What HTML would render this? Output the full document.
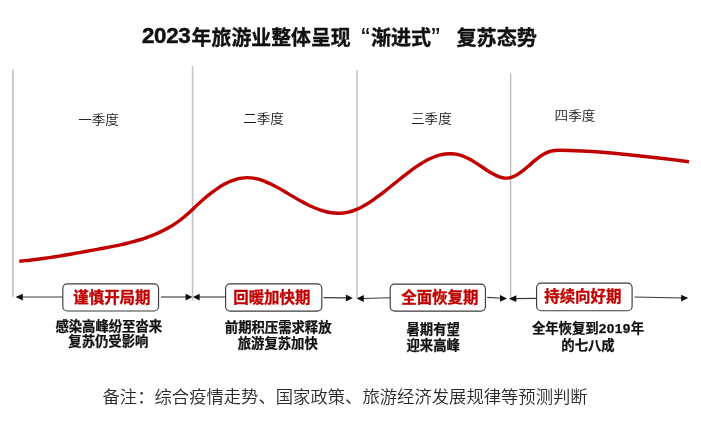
<!DOCTYPE html>
<html lang="zh-CN">
<head>
<meta charset="utf-8">
<title>2023年旅游业整体呈现“渐进式”复苏态势</title>
<style>
html,body{margin:0;padding:0;background:#fff;}
body{width:701px;height:425px;overflow:hidden;}
svg{display:block;}
text{font-family:"Liberation Sans","Noto Sans CJK SC",sans-serif;}
.title{font-size:20.4px;font-weight:700;fill:#111;stroke:#111;stroke-width:0.35px;}
.q{font-size:13px;font-weight:350;fill:#1a1a1a;}
.box{font-size:15.45px;font-weight:700;fill:#c00000;stroke:#c00000;stroke-width:0.3px;}
.desc{font-size:13.35px;font-weight:700;fill:#111;stroke:#111;stroke-width:0.25px;}
.note{font-size:17.33px;font-weight:350;fill:#2a2a2a;}
</style>
</head>
<body>
<svg width="701" height="425" viewBox="0 0 701 425">
<rect width="701" height="425" fill="#fff"/>
<!-- vertical dividers -->
<line x1="12.9" y1="69.5" x2="12.9" y2="297.2" stroke="#c2c2c2" stroke-width="1.6"/>
<line x1="192.6" y1="66" x2="192.6" y2="300.5" stroke="#c4c5c5" stroke-width="1.7"/>
<line x1="357.05" y1="70.3" x2="357.05" y2="298.2" stroke="#c2c2c2" stroke-width="1.5"/>
<line x1="510.65" y1="73.3" x2="510.65" y2="299.5" stroke="#b6b6b6" stroke-width="1.2"/>
<!-- title -->
<text class="title" x="142" y="43.4" style="font-size:22.3px;letter-spacing:-0.3px;stroke:#111;stroke-width:0.5px">2023</text>
<text class="title" transform="translate(191.6,44.6) scale(0.976,1)">年旅游业整体呈现</text>
<text class="title" x="361.3" y="46.2" style="font-size:26px;font-weight:400;stroke-width:0.2px">“</text>
<text class="title" transform="translate(370.9,44.6) scale(0.986,1)">渐进式</text>
<text class="title" x="431.2" y="46.2" style="font-size:26px;font-weight:400;stroke-width:0.2px">”</text>
<text class="title" transform="translate(456.4,44.6) scale(0.989,1)">复苏态势</text>
<!-- quarter labels -->
<text class="q" transform="translate(78.2,123.7) scale(1.045,1)">一季度</text>
<text class="q" transform="translate(243.2,123.0) scale(1.045,1)">二季度</text>
<text class="q" transform="translate(411,123.0) scale(1.045,1)">三季度</text>
<text class="q" transform="translate(554.6,120.3) scale(1.045,1)">四季度</text>
<!-- curve -->
<path d="M19.3,261.2 C21.3,261.01 23.3,260.82 25.3,260.62 C27.3,260.43 29.3,260.21 31.3,259.99 C33.3,259.76 35.3,259.52 37.3,259.27 C39.3,259.02 41.3,258.75 43.3,258.48 C45.3,258.20 47.3,257.92 49.3,257.62 C51.3,257.33 53.3,257.02 55.3,256.71 C57.3,256.40 59.3,256.07 61.3,255.75 C63.3,255.42 65.3,255.08 67.3,254.74 C69.3,254.40 71.3,254.05 73.3,253.70 C75.3,253.35 77.3,252.99 79.3,252.63 C81.3,252.27 83.3,251.91 85.3,251.54 C87.3,251.17 89.3,250.81 91.3,250.44 C93.3,250.07 95.3,249.70 97.3,249.33 C99.3,248.96 101.3,248.59 103.3,248.22 C105.3,247.85 107.3,247.47 109.3,247.09 C111.3,246.71 113.3,246.32 115.3,245.91 C117.3,245.51 119.3,245.09 121.3,244.65 C123.3,244.21 125.3,243.75 127.3,243.26 C129.3,242.78 131.3,242.27 133.3,241.72 C135.3,241.18 137.3,240.61 139.3,240.00 C141.3,239.39 143.3,238.74 145.3,238.05 C147.3,237.36 149.3,236.63 151.3,235.85 C153.3,235.07 155.3,234.24 157.3,233.36 C159.3,232.47 161.3,231.54 163.3,230.53 C165.3,229.53 167.3,228.46 169.3,227.30 C171.3,226.14 173.3,224.91 175.3,223.57 C177.3,222.23 179.3,220.80 181.3,219.26 C183.3,217.71 185.3,216.05 187.3,214.28 C189.3,212.51 191.3,210.64 193.3,208.75 C195.3,206.87 197.3,204.96 199.3,203.12 C201.3,201.28 203.3,199.50 205.3,197.79 C207.3,196.09 209.3,194.46 211.3,192.92 C213.3,191.38 215.3,189.92 217.3,188.57 C219.3,187.22 221.3,185.98 223.3,184.85 C225.3,183.71 227.3,182.70 229.3,181.81 C231.3,180.92 233.3,180.16 235.3,179.54 C237.3,178.92 239.3,178.44 241.3,178.12 C243.3,177.80 245.3,177.63 247.3,177.63 C249.3,177.63 251.3,177.80 253.3,178.11 C255.3,178.43 257.3,178.89 259.3,179.47 C261.3,180.06 263.3,180.77 265.3,181.57 C267.3,182.37 269.3,183.28 271.3,184.25 C273.3,185.23 275.3,186.28 277.3,187.37 C279.3,188.47 281.3,189.62 283.3,190.79 C285.3,191.96 287.3,193.15 289.3,194.35 C291.3,195.55 293.3,196.74 295.3,197.91 C297.3,199.09 299.3,200.23 301.3,201.34 C303.3,202.44 305.3,203.49 307.3,204.49 C309.3,205.49 311.3,206.43 313.3,207.30 C315.3,208.17 317.3,208.97 319.3,209.67 C321.3,210.38 323.3,211.00 325.3,211.52 C327.3,212.04 329.3,212.45 331.3,212.75 C333.3,213.05 335.3,213.23 337.3,213.29 C339.3,213.34 341.3,213.26 343.3,213.03 C345.3,212.81 347.3,212.44 349.3,211.91 C351.3,211.39 353.3,210.71 355.3,209.91 C357.3,209.11 359.3,208.19 361.3,207.15 C363.3,206.12 365.3,204.98 367.3,203.75 C369.3,202.52 371.3,201.20 373.3,199.82 C375.3,198.43 377.3,196.98 379.3,195.48 C381.3,193.98 383.3,192.43 385.3,190.85 C387.3,189.28 389.3,187.67 391.3,186.05 C393.3,184.44 395.3,182.81 397.3,181.20 C399.3,179.58 401.3,177.98 403.3,176.40 C405.3,174.82 407.3,173.27 409.3,171.77 C411.3,170.27 413.3,168.82 415.3,167.43 C417.3,166.04 419.3,164.72 421.3,163.49 C423.3,162.25 425.3,161.10 427.3,160.06 C429.3,159.01 431.3,158.07 433.3,157.26 C435.3,156.44 437.3,155.75 439.3,155.20 C441.3,154.65 443.3,154.24 445.3,153.99 C447.3,153.74 449.3,153.64 451.3,153.71 C453.3,153.78 455.3,154.02 457.3,154.44 C459.3,154.86 461.3,155.46 463.3,156.25 C465.3,157.04 467.3,158.01 469.3,159.09 C471.3,160.17 473.3,161.37 475.3,162.62 C477.3,163.88 479.3,165.20 481.3,166.52 C483.3,167.85 485.3,169.17 487.3,170.45 C489.3,171.73 491.3,172.96 493.3,174.05 C495.3,175.15 497.3,176.11 499.3,176.82 C501.3,177.54 503.3,178.00 505.3,178.11 C507.3,178.22 509.3,177.95 511.3,177.33 C513.3,176.72 515.3,175.78 517.3,174.61 C519.3,173.43 521.3,172.01 523.3,170.43 C525.3,168.85 527.3,167.11 529.3,165.34 C531.3,163.57 533.3,161.78 535.3,160.12 C540.3,155.97 547.0,150.40 558.0,150.30 C583,150.2 640,155.5 689,161.7" fill="none" stroke="#c00000" stroke-width="3.4" stroke-linecap="butt" stroke-linejoin="round"/>
<!-- arrows -->
<g stroke="#3a3a3a" stroke-width="1.1" fill="#0c0c0c">
<line x1="20" y1="297" x2="62.8" y2="297"/>
<line x1="161" y1="297" x2="187" y2="297"/>
<line x1="198" y1="297" x2="225.6" y2="297"/>
<line x1="323.5" y1="297.6" x2="347" y2="297.9"/>
<line x1="362" y1="298.5" x2="390.2" y2="297.7"/>
<line x1="487.1" y1="297.4" x2="502" y2="298.3"/>
<line x1="514" y1="298.6" x2="536.6" y2="298.4"/>
<line x1="634.5" y1="297" x2="683" y2="298"/>
<g stroke="none">
<polygon points="15.6,297.1 22.8,293.7 22.8,300.5"/>
<polygon points="192.4,297.1 185.6,293.8 185.6,300.4"/>
<polygon points="193,297.1 199.6,293.8 199.6,300.4"/>
<polygon points="352.8,298 345.9,294.6 345.9,301.4"/>
<polygon points="356.6,298.5 363.8,295.1 363.8,301.9"/>
<polygon points="507,298.4 500,295.1 500,301.8"/>
<polygon points="509,298.7 516.3,295.3 516.3,302.1"/>
<polygon points="688.2,298.05 681.1,294.7 681.1,301.4"/>
</g>
</g>
<!-- boxes -->
<g fill="#fff" stroke="#3c3c3c" stroke-width="1.15">
<rect x="62.8" y="283.85" width="95.75" height="27.1" rx="4.5"/>
<rect x="225.6" y="283.85" width="96.2" height="27.25" rx="4.5"/>
<rect x="390.2" y="284.1" width="95.2" height="27" rx="4.5"/>
<rect x="536.6" y="283.1" width="95.5" height="27.6" rx="4.5"/>
</g>
<text class="box" x="73.3" y="302.9">谨慎开局期</text>
<text class="box" x="233.2" y="303.1">回暖加快期</text>
<text class="box" x="401.2" y="303.2">全面恢复期</text>
<text class="box" x="544.2" y="302.2">持续向好期</text>
<!-- descriptions -->
<text class="desc" x="55.4" y="330.5">感染高峰纷至沓来</text>
<text class="desc" x="68.3" y="346.3">复苏仍受影响</text>
<text class="desc" x="224.8" y="331.7">前期积压需求释放</text>
<text class="desc" x="237.7" y="347.8">旅游复苏加快</text>
<text class="desc" x="406.5" y="334.3">暑期有望</text>
<text class="desc" x="406.5" y="350.4">迎来高峰</text>
<text class="desc" x="531.9" y="333.2">全年恢复到<tspan style="font-size:13.7px;letter-spacing:0.4px">2019</tspan>年</text>
<text class="desc" x="561.3" y="349.6">的七八成</text>
<!-- footnote -->
<text class="note" x="102.5" y="403">备注：综合疫情走势、国家政策、旅游经济发展规律等预测判断</text>
</svg>
</body>
</html>
